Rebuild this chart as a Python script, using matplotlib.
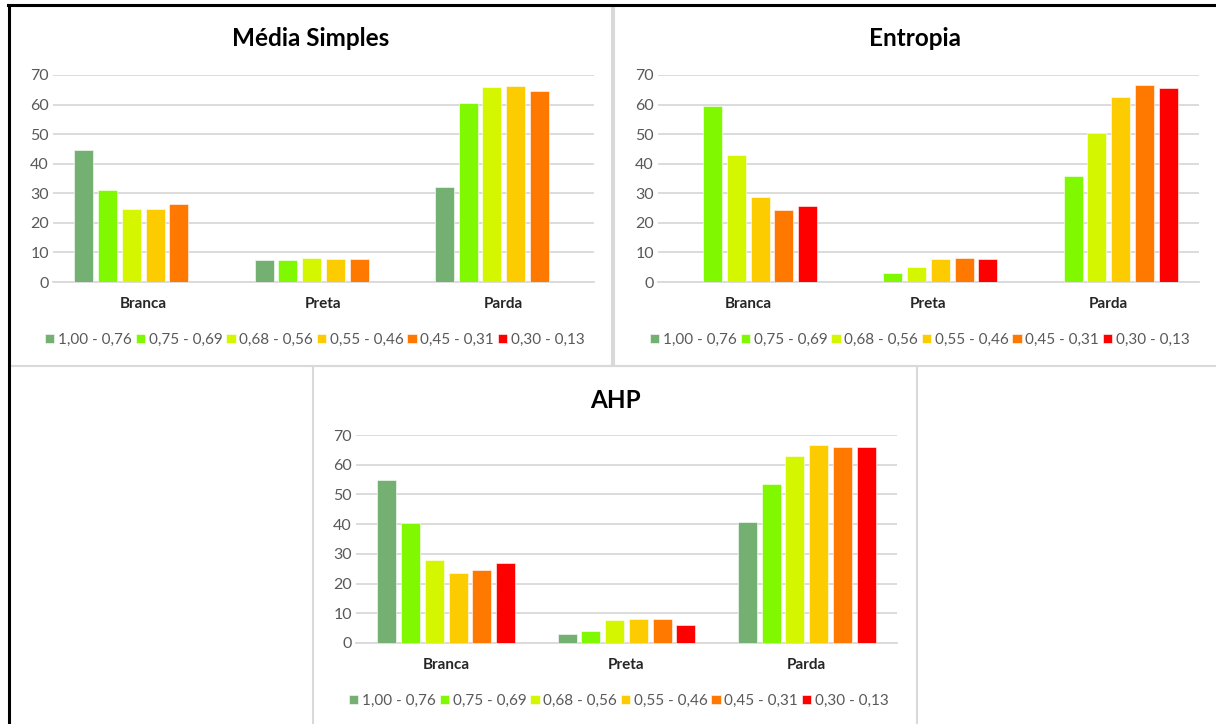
import matplotlib
matplotlib.use("Agg")
from matplotlib import pyplot as plt
from matplotlib.patches import Rectangle
from matplotlib.lines import Line2D
import numpy as np

plt.rcParams['font.family'] = ['Lato', 'DejaVu Sans']

# data
categorias = ['Branca', 'Preta', 'Parda']
faixas = ['1,00 - 0,76', '0,75 - 0,69', '0,68 - 0,56', '0,55 - 0,46', '0,45 - 0,31', '0,30 - 0,13']
cores = ['#75b073', '#80f800', '#d4f700', '#fccb00', '#ff7800', '#ff0000']

media_simples = [
    [44.8, 7.6, 32.0],
    [31.0, 7.3, 60.4],
    [24.7, 8.2, 66.1],
    [24.7, 7.9, 66.4],
    [26.5, 7.9, 64.6],
    [0, 0, 0],
]
entropia = [
    [0, 0, 0],
    [59.5, 3.0, 36.0],
    [42.9, 5.0, 50.4],
    [28.7, 7.7, 62.5],
    [24.5, 8.1, 66.6],
    [25.8, 7.9, 65.5],
]
ahp = [
    [54.8, 3.0, 40.6],
    [40.3, 4.2, 53.6],
    [27.9, 7.8, 62.8],
    [23.7, 8.0, 66.8],
    [24.6, 8.2, 66.0],
    [26.8, 6.2, 66.0],
]

W, H = 1216, 724
fig = plt.figure(figsize=(W / 100, H / 100), dpi=100)
fig.patch.set_facecolor('white')

def fx(x):
    return x / W

def fy(y):
    return 1 - y / H

grid_c = '#d9d9d9'
txt_c = '#595959'

# panel frames
for (x0, y0, x1, y1) in [(10, 6, 612, 366), (614, 6, 1218, 366), (313, 366, 917, 726)]:
    fig.patches.append(Rectangle((fx(x0), fy(y1)), fx(x1 - x0), fy(y0) - fy(y1),
                                 transform=fig.transFigure, facecolor='none',
                                 edgecolor=grid_c, linewidth=1.5, zorder=-5))
# black outer border
fig.lines.append(Line2D([fx(8), fx(1216)], [fy(5), fy(5)], transform=fig.transFigure,
                        color='black', linewidth=2.2))
fig.lines.append(Line2D([fx(9), fx(9)], [fy(5), fy(724)], transform=fig.transFigure,
                        color='black', linewidth=2.2))


def painel(dados, titulo, left, right, bottom, top, title_xy, legend_xy):
    ax = fig.add_axes([fx(left), fy(bottom), fx(right - left), fy(top) - fy(bottom)])
    x = np.arange(len(categorias))
    n = len(faixas)
    grupo = 0.79
    slot = grupo / n
    for i, serie in enumerate(dados):
        pos = x - grupo / 2 + slot * (i + 0.5)
        ax.bar(pos, serie, width=slot * 0.8, color=cores[i], edgecolor='white',
               linewidth=0.4, label=faixas[i], zorder=3)
    ax.set_xlim(-0.5, 2.5)
    ax.set_ylim(0, 70)
    ax.set_yticks(range(0, 71, 10))
    ax.yaxis.grid(True, color=grid_c, linewidth=1.3, zorder=0)
    ax.set_axisbelow(True)
    for s in ['top', 'right', 'left']:
        ax.spines[s].set_visible(False)
    ax.spines['bottom'].set_color(grid_c)
    ax.spines['bottom'].set_linewidth(1.3)
    ax.set_xticks(x)
    ax.set_xticklabels(categorias, fontsize=11, fontweight='bold', color='#262626')
    ax.tick_params(axis='x', length=0, pad=11)
    ax.tick_params(axis='y', length=0, pad=3, labelsize=11.5, labelcolor=txt_c)
    ax.set_facecolor('none')
    fig.text(fx(title_xy[0]), fy(title_xy[1]), titulo, ha='center', va='center',
             fontsize=17.5, fontweight='bold', color='black')
    fig.legend(*ax.get_legend_handles_labels(), loc='center',
               bbox_to_anchor=(fx(legend_xy[0]), fy(legend_xy[1])), ncol=6,
               frameon=False, fontsize=11, handlelength=0.6, handleheight=0.6,
               handletextpad=0.25, columnspacing=0.25, labelcolor=txt_c,
               borderaxespad=0)
    return ax


painel(media_simples, 'Média Simples', 53, 594, 282, 75, (311, 39), (315, 340))
painel(entropia, 'Entropia', 658, 1199, 282, 75, (915, 39), (920, 340))
painel(ahp, 'AHP', 356, 897, 643, 435, (615, 400), (619, 701))

fig.savefig('out.png', dpi=100, facecolor='white')
